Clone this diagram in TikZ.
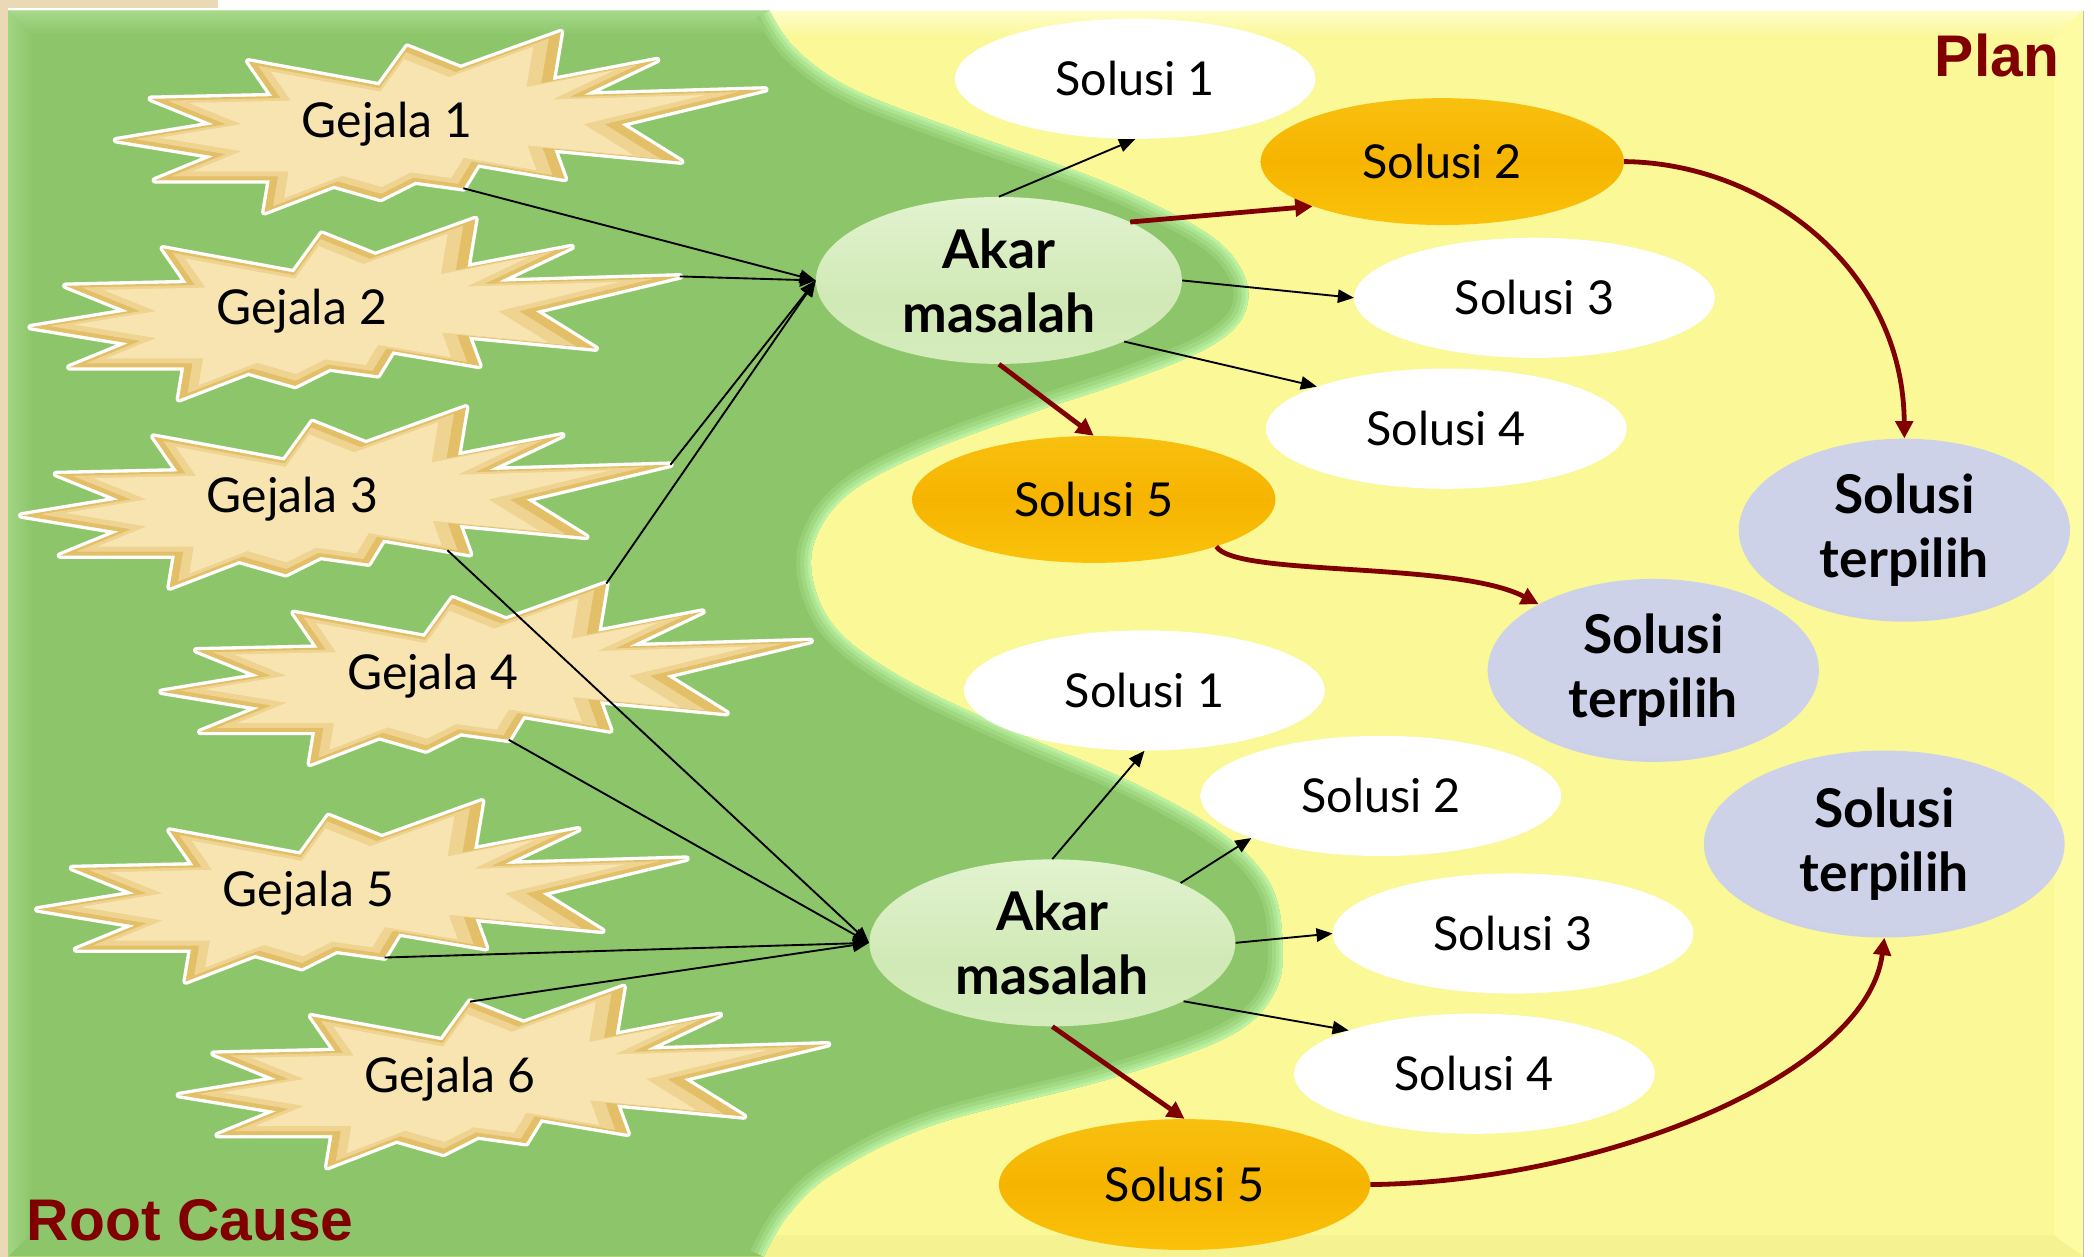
\documentclass[tikz,border=0pt]{standalone}
\usepackage{fontspec}
\setmainfont{Lato}
\newfontfamily\headfont{Liberation Sans}
\usetikzlibrary{shapes.geometric,arrows.meta}

% ---------- colours ----------
\definecolor{leafgreen}{HTML}{8DC66A}
\definecolor{leaflight}{HTML}{A6D98A}
\definecolor{leafglow}{HTML}{BFF4A6}
\definecolor{planyellow}{HTML}{FAF897}
\definecolor{planlight}{HTML}{FDFCA2}
\definecolor{plantop}{HTML}{FFFDC8}
\definecolor{plandark}{HTML}{F5F391}
\definecolor{edgebeige}{HTML}{EAD9B5}
\definecolor{dred}{HTML}{800000}
\definecolor{stargold}{HTML}{E3C068}
\definecolor{starmid}{HTML}{EED391}
\definecolor{starcore}{HTML}{F7E4B0}
\definecolor{solA}{HTML}{FFFFFF}
\definecolor{solB}{HTML}{F1F1F1}
\definecolor{solC}{HTML}{D4D4D4}
\definecolor{orB}{HTML}{FFD41F}
\definecolor{orL}{HTML}{FAC20B}
\definecolor{orM}{HTML}{F6B400}
\definecolor{orU}{HTML}{F9C213}
\definecolor{orT}{HTML}{FFF04C}
\definecolor{akB}{HTML}{D8EEC2}
\definecolor{akM}{HTML}{D1E9B6}
\definecolor{akU}{HTML}{E2F3D0}
\definecolor{akT}{HTML}{F8FFF0}
\definecolor{tpC}{HTML}{CDD2E8}
\definecolor{tpM}{HTML}{BCC2E0}
\definecolor{tpR}{HTML}{A0A7CC}
\definecolor{tpTop}{HTML}{E8EBF7}

% ---------- shadings ----------
\pgfdeclareradialshading{solshade}{\pgfpoint{0bp}{0bp}}{color(0bp)=(solA); color(34bp)=(solA); color(45bp)=(solB); color(50bp)=(solC)}
\pgfdeclareverticalshading{orshade}{100bp}{color(0bp)=(orB); color(25bp)=(orL); color(50bp)=(orM); color(80bp)=(orU); color(100bp)=(orT)}
\pgfdeclareverticalshading{akshade}{100bp}{color(0bp)=(akB); color(45bp)=(akM); color(75bp)=(akU); color(100bp)=(akT)}
\pgfdeclareradialshading{tpshade}{\pgfpoint{0bp}{6bp}}{color(0bp)=(tpC); color(26bp)=(tpC); color(42bp)=(tpM); color(56bp)=(tpR)}

% ---------- fonts ----------
\newcommand\symfont{\fontsize{36}{40}\selectfont}
\newcommand\solfont{\fontsize{35}{40}\selectfont}
\newcommand\boldfont{\fontsize{40}{48}\selectfont\bfseries}
\newcommand\headsize{\fontsize{44}{48}\selectfont\headfont\bfseries}

% ---------- starburst outline, relative to its label ----------
\def\starpath{(130,-69) -- (124,-33) -- (202,-48) -- (147,-22) -- (283,-26) -- (175,0)
  -- (220,28) -- (125,19) -- (133,41) -- (68,30) -- (57,48) -- (21,43) -- (-5,56)
  -- (-40,46) -- (-92,66) -- (-88,42) -- (-174,42) -- (-130,24) -- (-203,12)
  -- (-130,0) -- (-177,-19) -- (-86,-21) -- (-104,-47) -- (-6,-29) -- (15,-58)
  -- (55,-42) -- cycle}

\newcommand\gejala[4]{%
  \begin{scope}[shift={(#2,#3)}]
    \draw[white, line width=5pt, line join=round] \starpath;
    \fill[stargold] \starpath;
    \fill[starmid, scale=0.93] \starpath;
    \fill[starcore, scale=0.84] \starpath;
    \coordinate (#1-t1) at (130,-69);
    \coordinate (#1-t3) at (283,-26);
    \coordinate (#1-t6) at (57,48);
    \coordinate (#1-t13) at (15,-58);
    \coordinate (#1-low) at (116,38);
  \end{scope}
  \node[symtext] (#1) at (#2,#3) {#4};
}

\begin{document}
\begin{tikzpicture}[x=1pt,y=-1pt,
  symtext/.style={font=\symfont, inner sep=0pt},
  sol/.style={ellipse, shade, shading=solshade, minimum width=270pt, minimum height=90pt,
    inner sep=0pt, font=\solfont},
  pick/.style={ellipse, shade, shading=orshade, minimum width=272pt, minimum height=95pt,
    inner sep=0pt, font=\solfont},
  akar/.style={ellipse, shade, shading=akshade, minimum width=274pt, minimum height=125pt,
    inner sep=0pt, font=\boldfont, align=center},
  chosen/.style={ellipse, shade, shading=tpshade, minimum width=248pt, minimum height=137pt,
    inner sep=0pt, font=\boldfont, align=center},
  headlbl/.style={font=\headsize, text=dred, inner sep=0pt},
  cause/.style={draw=black, line width=1.4pt, -{Triangle[length=12pt,width=10pt]}},
  opt/.style={draw=black, line width=1.4pt, -{Triangle[length=12pt,width=10pt]}},
  best/.style={draw=dred, line width=3.6pt, -{Triangle[length=13pt,width=13pt]}}]

\useasboundingbox (0,0) rectangle (1568,941);

% ---------- page and panels ----------
\fill[white] (0,0) rectangle (1568,941);
\fill[edgebeige] (0,0) rectangle (6,941);
\fill[edgebeige] (0,0) rectangle (163,6);

\fill[planyellow] (6,8) rectangle (1560,941);
\shade[top color=plantop, bottom color=planyellow] (6,8) -- (1560,8) -- (1538,28) -- (6,28) -- cycle;
\fill[planlight] (1538,28) -- (1560,8) -- (1560,941) -- (1538,925) -- cycle;
\fill[plandark] (6,925) -- (1538,925) -- (1560,941) -- (6,941) -- cycle;
\draw[black!25, line width=0.8pt] (1560,8) -- (1560,941);

% green "root cause" region with its wavy border
\def\greenpath{(6,8) -- plot[smooth, tension=0.6] coordinates {(576,8) (596,37) (639,67)
  (725,100) (811,130) (868,155) (911,180) (931,205) (934,228) (922,248) (893,266)
  (839,287) (770,310) (690,340) (635,370) (610,405) (610,440) (630,475) (680,510)
  (760,548) (850,587) (915,624) (950,660) (960,700) (955,742) (920,776) (830,808)
  (700,842) (625,878) (590,910) (572,941)} -- (6,941) -- cycle}
\def\borderline{plot[smooth, tension=0.6] coordinates {(576,8) (596,37) (639,67)
  (725,100) (811,130) (868,155) (911,180) (931,205) (934,228) (922,248) (893,266)
  (839,287) (770,310) (690,340) (635,370) (610,405) (610,440) (630,475) (680,510)
  (760,548) (850,587) (915,624) (950,660) (960,700) (955,742) (920,776) (830,808)
  (700,842) (625,878) (590,910) (572,941)}}

\fill[leafgreen] \greenpath;
\begin{scope}
  \clip \greenpath;
  \shade[top color=leaflight, bottom color=leafgreen] (6,8) -- (1000,8) -- (1000,26) -- (24,26) -- cycle;
  \shade[left color=leaflight!80!leafgreen, right color=leafgreen] (6,8) -- (24,26) -- (24,923) -- (6,941) -- cycle;
  % soft light rim along the wavy border
  \draw[leafglow!20!leafgreen, line width=22pt] \borderline;
  \draw[leafglow!40!leafgreen, line width=16pt] \borderline;
  \draw[leafglow!65!leafgreen, line width=10pt] \borderline;
  \draw[leafglow!85!leafgreen, line width=5pt] \borderline;
  \draw[leafglow, line width=2pt] \borderline;
\end{scope}

% ---------- symptoms ----------
\gejala{g1}{290}{93}{Gejala 1}
\gejala{g2}{226}{233}{Gejala 2}
\gejala{g3}{219}{374}{Gejala 3}
\gejala{g4}{324}{506}{Gejala 4}
\gejala{g5}{231}{669}{Gejala 5}
\gejala{g6}{337}{808}{Gejala 6}

% ---------- first root cause and its solutions ----------
\node[sol]  (s1) at (850,59)   {Solusi 1};
\node[pick] (s2) at (1080,121) {Solusi 2};
\node[sol]  (s3) at (1149,223) {Solusi 3};
\node[sol]  (s4) at (1083,321) {Solusi 4};
\node[pick] (s5) at (819,374)  {Solusi 5};
\node[akar] (a1) at (748,210)  {Akar\\masalah};
\node[chosen] (t1) at (1426,397) {Solusi\\terpilih};
\node[chosen] (t2) at (1238,502) {Solusi\\terpilih};

% ---------- second root cause and its solutions ----------
\node[sol]  (q1) at (857,517)  {Solusi 1};
\node[sol]  (q2) at (1034,596) {Solusi 2};
\node[sol]  (q3) at (1133,699) {Solusi 3};
\node[sol]  (q4) at (1104,804) {Solusi 4};
\node[pick, minimum width=278pt, minimum height=98pt] (q5) at (887,887) {Solusi 5};
\node[akar] (a2) at (788,706)  {Akar\\masalah};
\node[chosen, minimum width=270pt, minimum height=140pt] (t3) at (1411,632) {Solusi\\terpilih};

% ---------- symptom -> root cause ----------
\draw[cause] (g1-t6) -- (a1.west);
\draw[cause] (g2-t3) -- (a1.west);
\draw[cause] (g3-t3) -- (a1.west);
\draw[cause] (g4-t1) -- (a1.west);
\draw[cause] (g3-low) -- (a2.west);
\draw[cause] (g4-t6) -- (a2.west);
\draw[cause] (g5-t6) -- (a2.west);
\draw[cause] (g6-t13) -- (a2.west);

% ---------- root cause -> solutions ----------
\draw[opt]  (a1.north) -- (s1.south);
\draw[best] (a1.24) -- (s2.199);
\draw[opt]  (a1.east) -- (s3.west);
\draw[opt]  (a1.334) -- (s4.162);
\draw[best] (a1.south) -- (s5.north);
\draw[best] (s2.east) .. controls (1320,122) and (1425,200) .. (t1.north);
\draw[best] (s5.339) .. controls (925,432) and (1090,420) .. (t2.150);

\draw[opt]  (a2.north) -- (q1.south);
\draw[opt]  (a2.25) -- (q2.198);
\draw[opt]  (a2.east) -- (q3.west);
\draw[opt]  (a2.336) -- (q4.161);
\draw[best] (a2.south) -- (q5.north);
\draw[best] (q5.east) .. controls (1200,885) and (1398,805) .. (t3.south);

% ---------- region titles ----------
\node[headlbl, anchor=base east] (plan) at (1542,57) {Plan};
\node[headlbl, anchor=base west] (root) at (20,929) {Root Cause};
\end{tikzpicture}
\end{document}
